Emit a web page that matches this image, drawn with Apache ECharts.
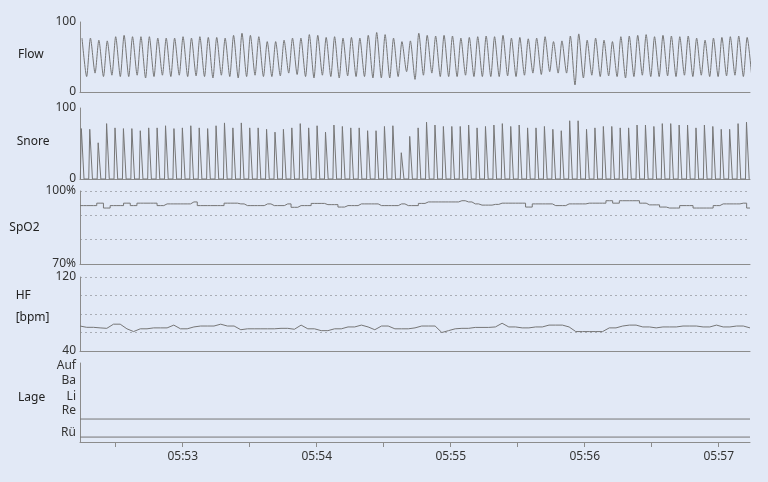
<!DOCTYPE html>
<html><head><meta charset="utf-8">
<script src="https://cdn.jsdelivr.net/npm/echarts@6/dist/echarts.min.js"></script>
<style>html,body{margin:0;padding:0;background:#e2e9f6;}#c{width:768px;height:482px;}</style>
</head><body><div id="c"></div>
<script>
// time range (seconds of day): 05:52:14 .. 05:57:14
const tStart = 21134, tEnd = 21434;
const tickTimes = [21150,21180,21210,21240,21270,21300,21330,21360,21390,21420];
const labelTimes = [21180,21240,21300,21360,21420];
const firstBreath = 0.9, breathPeriod = 3.77;

const flowPeaks = [77,77,74,73,79,81,79,79,79,77,77,77,79,77,79,78,78,77,81,84,
  81,79,72,72,74,77,77,82,81,78,79,77,78,77,81,85,82,77,72,73,
  84,81,80,81,80,77,78,79,80,79,81,77,78,76,77,79,72,73,80,83,
  74,77,74,72,79,80,81,82,79,81,80,79,80,77,74,77,78,79,80,78];
const flowTroughs = [22,27,22,24,22,22,24,20,22,24,22,24,22,23,22,20,24,22,20,22,
  24,22,22,23,27,25,22,20,24,22,20,23,22,22,20,20,20,22,29,18,
  24,27,22,22,22,24,22,22,22,22,23,22,24,27,25,29,27,27,10,20,
  24,22,23,22,20,22,24,22,22,23,22,24,22,24,22,22,23,24,22,22];
const snorePeaks = [71,70,51,78,72,71,71,68,72,72,75,71,72,75,72,71,75,79,72,79,
  72,72,70,66,70,72,78,72,75,66,76,74,72,72,68,68,74,75,37,60,
  72,80,76,74,74,74,76,72,74,76,78,74,76,72,72,74,70,68,82,82,
  70,72,74,74,72,72,76,76,74,78,78,76,76,72,76,74,70,70,78,80];

const vitalStep = 3;
const spo2 = [94,94,94,95,93,94,94,95,94,95,95,95,94,94.7,94.7,94.7,94.7,95.5,94,94,
  94,94,95,95,94.7,94,94,94,94.7,94,94,94.7,93.3,94,94,94.9,94.9,94.4,94.4,93.4,
  94,94,94.7,94.7,94.7,94,94,94,94.7,94,94,94.9,95.5,95.5,95.5,95.5,95.5,96,95.5,94.7,
  94.2,94.2,94.5,95,95,95,95,93.4,94.7,94.7,94.7,94,94,94.7,94.7,94.7,95,95,95,96,
  95,96,96,96,95,94.3,94.3,93.4,93,93,94,94,93,93,93,94,94.7,94.7,94.7,95,93];
const hf = [67,65.6,65.6,65,64.5,69,69,64,61,64,64,65,65,65,68,64,64,66,67,67,
  67,69,67,67,63,64,64,64,64,64,64.5,64.5,63.5,68,64,64,62,62,64,64,
  66,66,68,66,63,67,67,64,64,64,65,67,67,67,60,62,64,64.5,64.5,65.5,
  65.5,65.5,66,70,66,66,65,65,66,66,68,68,68,66,61,61,61,61,61,65,
  65,67,68,68,66,66,65,66,66,66,67,67,67,66,66,68,66,66,67,67,65];

const lageLabels = {2:'Rü', 6.3:'Re', 9.3:'Li', 12.35:'Ba', 15.4:'Auf'};
const lageLabelValues = [2, 6.3, 9.3, 12.35, 15.4];
const lageTrace = [4.65, 4.65];
const lageBase = [1, 1];

// ---- build series data ----
const flowData = [];
for (let i = 0; i < flowPeaks.length; i++) {
  const tp = tStart + firstBreath + i * breathPeriod;
  flowData.push([tp, flowPeaks[i]]);
  flowData.push([tp + 0.55 * breathPeriod, flowTroughs[i]]);
}
const snoreData = [];
for (let i = 0; i < snorePeaks.length; i++) {
  const s = tStart + firstBreath + (i - 0.2) * breathPeriod;
  snoreData.push([s, 0]);
  snoreData.push([s + 0.12 * breathPeriod, snorePeaks[i]]);
  snoreData.push([s + 0.30 * breathPeriod, snorePeaks[i]]);
  snoreData.push([s + 0.44 * breathPeriod, 0]);
}
const spo2Data = spo2.map((v, k) => [tStart + k * vitalStep, v]);
const hfData = hf.map((v, k) => [tStart + k * vitalStep, v]);
const lageTraceData = lageTrace.map((v, k) => [k === 0 ? tStart : tEnd, v]);
const lageBaseData = lageBase.map((v, k) => [k === 0 ? tStart : tEnd, v]);

const FONT = 'Noto Sans';
const axisColor = '#8c8c8c';
const traceColor = '#767676';
const txt = '#333';

const grids = [
  {top: 22, bottom: 390},
  {top: 108, bottom: 303},
  {top: 191, bottom: 218},
  {top: 277, bottom: 131},
  {top: 363, bottom: 40}
].map(g => Object.assign({left: 80, right: 18, outerBoundsMode: 'none', containLabel: false}, g));

function fmtTime(v) {
  const h = Math.floor(v / 3600), m = Math.floor((v % 3600) / 60);
  return String(h).padStart(2, '0') + ':' + String(m).padStart(2, '0');
}

const xAxes = grids.map((g, i) => ({
  gridIndex: i, type: 'value', min: tStart, max: tEnd,
  axisLine: {show: true, onZero: false, lineStyle: {color: axisColor, width: 1}},
  axisTick: i === 4 ? {show: true, length: 5, customValues: tickTimes, lineStyle: {color: axisColor}} : {show: false},
  axisLabel: i === 4 ? {show: true, customValues: labelTimes, formatter: fmtTime, color: txt, fontFamily: FONT, fontSize: 12, margin: 9} : {show: false},
  splitLine: {show: false}
}));

const nameRich = {
  a: {color: '#222', fontFamily: FONT, fontSize: 12, lineHeight: 22, align: 'left'},
  s4: {height: 4, lineHeight: 4},
  s10: {height: 10, lineHeight: 10},
  s14: {height: 14, lineHeight: 14}
};

function yAx(i, name, min, max, interval, fmt, dashed, extra) {
  return Object.assign({
    gridIndex: i, type: 'value', min: min, max: max, interval: interval,
    name: name, nameLocation: 'middle', nameRotate: 0, nameGap: 62,
    nameTextStyle: {align: 'left', verticalAlign: 'middle', color: '#222', fontFamily: FONT, fontSize: 12, rich: nameRich},
    axisLine: {show: true, onZero: false, lineStyle: {color: axisColor, width: 1}},
    axisTick: {show: false},
    axisLabel: {color: txt, fontFamily: FONT, fontSize: 12, margin: 4, formatter: fmt},
    splitLine: dashed ? {show: true, lineStyle: {color: '#a9adb5', type: [2, 3], width: 1}} : {show: false}
  }, extra || {});
}

const yAxes = [
  yAx(0, '{a|Flow}\n{s4|}', 0, 100, 100, v => String(v), false),
  yAx(1, '{a|Snore}\n{s4|}', 0, 100, 100, v => String(v), false),
  yAx(2, '{a|SpO2}', 70, 100, 10, v => (v === 70 || v === 100) ? v + '%' : '', true),
  yAx(3, '{a|HF}\n{a|[bpm]}\n{s14|}', 40, 120, 20, v => (v === 40 || v === 120) ? String(v) : '', true),
  yAx(4, '{a|Lage}\n{s10|}', 0, 16, 1, v => lageLabels[v] || '', false,
      {interval: undefined, axisLabel: {color: txt, fontFamily: FONT, fontSize: 12, margin: 4,
        customValues: lageLabelValues, formatter: v => lageLabels[v] || ''}})
];

function line(i, data, step) {
  return {type: 'line', xAxisIndex: i, yAxisIndex: i, data: data, symbol: 'none',
    step: step || false, clip: true, animation: false,
    lineStyle: {color: traceColor, width: 1}, silent: true};
}

const chart = echarts.init(document.getElementById('c'), null, {renderer: 'canvas'});
chart.setOption({
  backgroundColor: '#e2e9f6',
  animation: false,
  grid: grids,
  xAxis: xAxes,
  yAxis: yAxes,
  series: [
    Object.assign(line(0, flowData), {smooth: 0.25}),
    line(1, snoreData),
    line(2, spo2Data, 'middle'),
    line(3, hfData),
    line(4, lageTraceData),
    line(4, lageBaseData)
  ]
});
</script>
</body></html>
